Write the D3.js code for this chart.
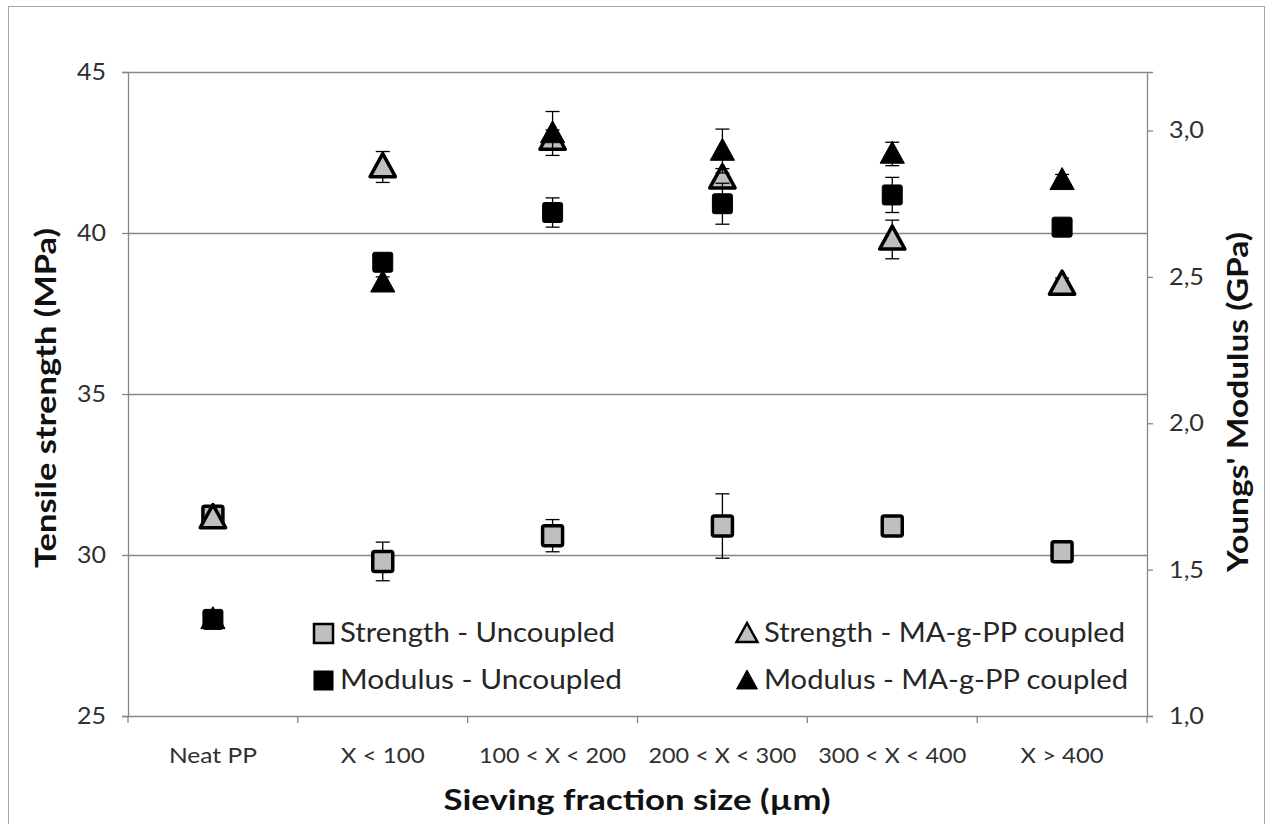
<!DOCTYPE html>
<html><head><meta charset="utf-8">
<script src="https://cdn.jsdelivr.net/npm/d3@7"></script>
<style>body{margin:0;background:#fff}svg{display:block}</style>
</head><body>
<svg id="c" width="1272" height="824"></svg>
<script>
const categories = ["Neat PP","X < 100","100 < X < 200","200 < X < 300","300 < X < 400","X > 400"];
const strengthUncoupled = [31.2, 29.8, 30.6, 30.9, 30.9, 30.1];
const strengthUncoupledErr = [0.1, 0.6, 0.5, 1.0, 0.2, 0.2];
const strengthCoupled = [31.15, 42.05, 42.9, 41.7, 39.8, 38.4];
const strengthCoupledErr = [0.1, 0.48, 0.3, 0.3, 0.6, 0.2];
const modulusUncoupled = [1.33, 2.55, 2.72, 2.75, 2.78, 2.67];
const modulusUncoupledErr = [0.02, 0.03, 0.05, 0.07, 0.06, 0.02];
const modulusCoupled = [1.33, 2.48, 2.99, 2.93, 2.92, 2.83];
const modulusCoupledErr = [0.02, 0.02, 0.075, 0.075, 0.04, 0.02];
const leftTicks = [25, 30, 35, 40, 45];
const rightTicks = [1.0, 1.5, 2.0, 2.5, 3.0];

const svg = d3.select("#c");
const FONT = "Lato, 'Open Sans', sans-serif";
const L = 128, R = 1147, T = 72, B = 716;
const gridC = "#878787";

svg.append("rect").attr("x",8.5).attr("y",6.5).attr("width",1256).attr("height",840)
  .attr("fill","none").attr("stroke","#a6a6a6");

const x = d3.scaleBand().domain(categories).range([L, R]);
const yL = d3.scaleLinear().domain([25,45]).range([B, T]);
const yR = d3.scaleLinear().domain([1.0,3.2]).range([B, T]);

// gridlines
svg.append("g").selectAll("line").data(leftTicks.filter(d=>d>25)).join("line")
  .attr("x1",L).attr("x2",R).attr("y1",d=>yL(d)+0.5).attr("y2",d=>yL(d)+0.5)
  .attr("stroke",gridC).attr("stroke-width",1.3);

const gl = svg.append("g").attr("transform",`translate(${L},0)`)
  .call(d3.axisLeft(yL).tickValues(leftTicks).tickSize(6).tickPadding(16).tickFormat(d3.format("d")));
const gr = svg.append("g").attr("transform",`translate(${R},0)`)
  .call(d3.axisRight(yR).tickValues(rightTicks).tickSize(6).tickPadding(16).tickFormat(d=>d.toFixed(1).replace(".",",")));
const gb = svg.append("g").attr("transform",`translate(0,${B})`)
  .call(d3.axisBottom(x).tickSize(0).tickPadding(31));
[gl,gr,gb].forEach(g=>{
  g.select(".domain").attr("stroke",gridC).attr("stroke-width",1.3);
  g.selectAll(".tick line").attr("stroke",gridC).attr("stroke-width",1.3);
  g.selectAll("text").attr("fill","#303030").attr("font-family",FONT).attr("font-size",23);
});
gl.selectAll("text").attr("textLength",29).attr("lengthAdjust","spacingAndGlyphs");
gr.selectAll("text").attr("textLength",35).attr("lengthAdjust","spacingAndGlyphs");
const catLen = {"Neat PP":88,"X < 100":84,"100 < X < 200":147,"200 < X < 300":148,"300 < X < 400":148,"X > 400":83};
gb.selectAll("text").attr("font-size",22).attr("textLength",d=>catLen[d]).attr("lengthAdjust","spacingAndGlyphs");
const bounds = categories.map(c=>x(c)).concat([R]);
svg.append("g").selectAll("line").data(bounds).join("line")
  .attr("x1",d=>d).attr("x2",d=>d).attr("y1",B).attr("y2",B+7)
  .attr("stroke",gridC).attr("stroke-width",1.3);

// axis titles
svg.append("text").attr("transform",`translate(56,${398}) rotate(-90)`)
  .attr("text-anchor","middle").attr("font-family",FONT).attr("font-weight","bold")
  .attr("font-size",29).attr("fill","#111").attr("textLength",340).attr("lengthAdjust","spacingAndGlyphs")
  .text("Tensile strength (MPa)");
svg.append("text").attr("transform",`translate(1248,${402}) rotate(-90)`)
  .attr("text-anchor","middle").attr("font-family",FONT).attr("font-weight","bold")
  .attr("font-size",29).attr("fill","#111").attr("textLength",340).attr("lengthAdjust","spacingAndGlyphs")
  .text("Youngs' Modulus (GPa)");
svg.append("text").attr("x",637).attr("y",810)
  .attr("text-anchor","middle").attr("font-family",FONT).attr("font-weight","bold")
  .attr("font-size",29).attr("fill","#111").attr("textLength",387).attr("lengthAdjust","spacingAndGlyphs")
  .text("Sieving fraction size (µm)");

const cx = c => x(c) + x.bandwidth()/2;
const gray = "#bfbfbf";

function errBars(vals, errs, scale){
  const g = svg.append("g");
  categories.forEach((c,i)=>{
    const X = cx(c), y1 = scale(vals[i]-errs[i]), y2 = scale(vals[i]+errs[i]);
    g.append("line").attr("x1",X).attr("x2",X).attr("y1",y1).attr("y2",y2).attr("stroke","#000").attr("stroke-width",1.3);
    [y1,y2].forEach(yy=>g.append("line").attr("x1",X-7).attr("x2",X+7).attr("y1",yy).attr("y2",yy).attr("stroke","#000").attr("stroke-width",1.3));
  });
}
const tri = (s)=>`M0,${-s*0.58} L${s*0.55},${s*0.42} L${-s*0.55},${s*0.42} Z`;

function squares(vals, scale, fill, size, sw){
  svg.append("g").selectAll("rect").data(vals).join("rect")
    .attr("x",(d,i)=>cx(categories[i])-size/2).attr("y",d=>scale(d)-size/2)
    .attr("width",size).attr("height",size).attr("rx",2)
    .attr("fill",fill).attr("stroke","#000").attr("stroke-width",sw);
}
function triangles(vals, scale, fill, size, sw){
  svg.append("g").selectAll("path").data(vals).join("path")
    .attr("transform",(d,i)=>`translate(${cx(categories[i])},${scale(d)})`)
    .attr("d",tri(size)).attr("fill",fill).attr("stroke","#000").attr("stroke-width",sw).attr("stroke-linejoin","round");
}

// strength uncoupled
errBars(strengthUncoupled, strengthUncoupledErr, yL);
squares(strengthUncoupled, yL, gray, 20, 3.5);
// strength coupled
errBars(strengthCoupled, strengthCoupledErr, yL);
triangles(strengthCoupled, yL, gray, 23, 3.5);
// modulus coupled
errBars(modulusCoupled, modulusCoupledErr, yR);
triangles(modulusCoupled, yR, "#000", 22, 1);
// modulus uncoupled
errBars(modulusUncoupled, modulusUncoupledErr, yR);
squares(modulusUncoupled, yR, "#000", 20, 1);

// legend
const leg = svg.append("g").attr("font-family",FONT).attr("font-size",27).attr("fill","#262626");
const items = [
  {t:"Strength - Uncoupled", x:313, y:633, shape:"sq", fill:gray, sw:2.5, len:275},
  {t:"Modulus - Uncoupled", x:313, y:680, shape:"sq", fill:"#000", sw:1, len:282},
  {t:"Strength - MA-g-PP coupled", x:737, y:633, shape:"tri", fill:gray, sw:2.5, len:361},
  {t:"Modulus - MA-g-PP coupled", x:737, y:680, shape:"tri", fill:"#000", sw:1, len:364}
];
items.forEach(it=>{
  if(it.shape==="sq"){
    leg.append("rect").attr("x",it.x+1).attr("y",it.y-9).attr("width",19).attr("height",19)
      .attr("fill",it.fill).attr("stroke","#000").attr("stroke-width",it.sw);
  } else {
    leg.append("path").attr("transform",`translate(${it.x+10},${it.y+1})`).attr("d",tri(19))
      .attr("fill",it.fill).attr("stroke","#000").attr("stroke-width",it.sw);
  }
  leg.append("text").attr("x",it.x+27).attr("y",it.y).attr("dy","0.35em")
    .attr("textLength",it.len).attr("lengthAdjust","spacingAndGlyphs").text(it.t);
});
</script>
</body></html>
